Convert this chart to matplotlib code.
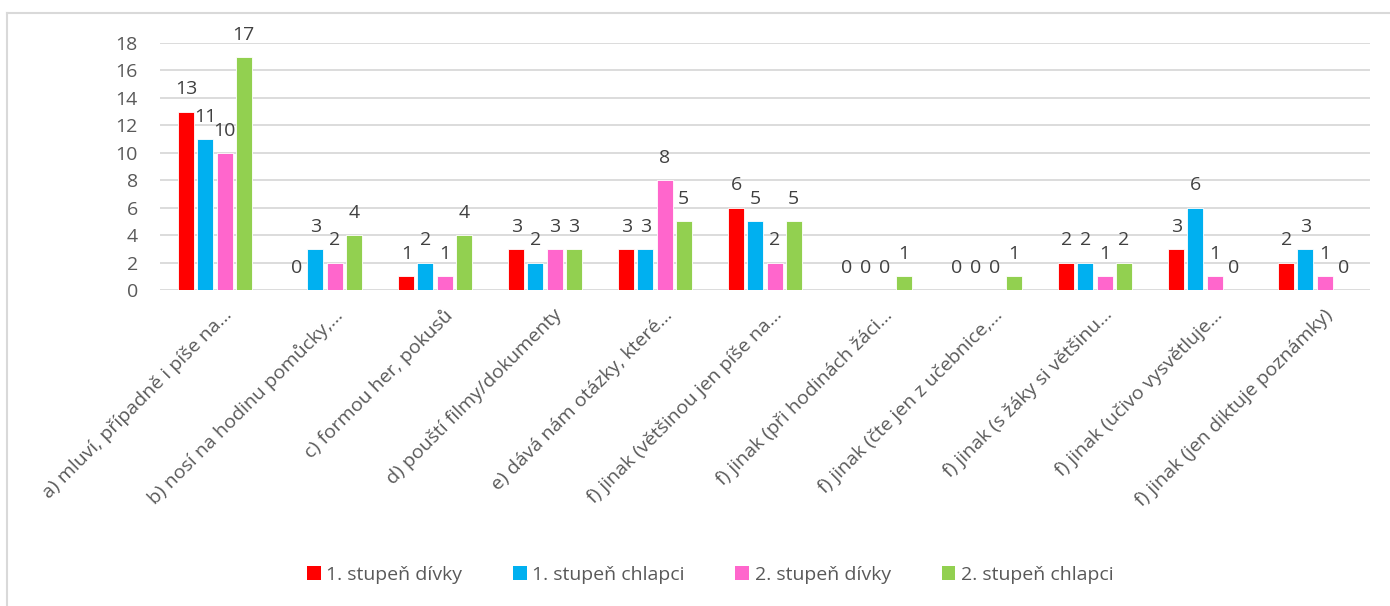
import matplotlib
matplotlib.use("Agg")
import matplotlib.pyplot as plt
from matplotlib.lines import Line2D
from matplotlib.patches import Patch
import matplotlib.transforms as mtransforms
import numpy as np

plt.rcParams['font.family'] = ['Open Sans', 'DejaVu Sans']

# data
kategorie = [
    "a) mluví, případně i píše na...",
    "b) nosí na hodinu pomůcky,...",
    "c) formou her, pokusů",
    "d) pouští filmy/dokumenty",
    "e) dává nám otázky, které...",
    "f) jinak (většinou jen píše na...",
    "f) jinak (při hodinách žáci...",
    "f) jinak (čte jen z učebnice,...",
    "f) jinak (s žáky si většinu...",
    "f) jinak (učivo vysvětluje...",
    "f) jinak (jen diktuje poznámky)",
]
serie = ["1. stupeň dívky", "1. stupeň chlapci", "2. stupeň dívky", "2. stupeň chlapci"]
st1_divky = [13, 0, 1, 3, 3, 6, 0, 0, 2, 3, 2]
st1_chlapci = [11, 3, 2, 2, 3, 5, 0, 0, 2, 6, 3]
st2_divky = [10, 2, 1, 3, 8, 2, 0, 0, 1, 1, 1]
st2_chlapci = [17, 4, 4, 3, 5, 5, 1, 1, 2, 0, 0]
barvy = ["#FF0000", "#00B0F0", "#FF66CC", "#92D050"]

hodnoty = [st1_divky, st1_chlapci, st2_divky, st2_chlapci]
txt = "#595959"
fs = 14

fig = plt.figure(figsize=(13.9, 6.06), dpi=100)
ax = fig.add_axes([160/1390, 1-290/606, 1210/1390, 247/606])

x = np.arange(len(kategorie))
slot = 0.174
w = 0.145
for i, (vals, c) in enumerate(zip(hodnoty, barvy)):
    pos = x + (i - 1.5) * slot
    ax.bar(pos, vals, width=w, color=c, edgecolor="white", linewidth=0.6, zorder=3)
    for px, v in zip(pos, vals):
        ax.annotate(str(v), (px, v), xytext=(0, 16), textcoords="offset points",
                    ha="center", va="center", fontsize=fs, color="#404040")

ax.set_xlim(-0.5, len(kategorie) - 0.5)
ax.set_ylim(0, 18)
ax.set_yticks(range(0, 19, 2))
ax.yaxis.grid(True, color="#D9D9D9", linewidth=1.3, zorder=0)
for s in ax.spines.values():
    s.set_visible(False)
ax.tick_params(axis="y", length=0, pad=16, labelsize=fs, labelcolor=txt)
ax.tick_params(axis="x", length=0, labelsize=fs, labelcolor=txt)
ax.set_xticks(x)
ax.set_xticklabels(kategorie, rotation=45, ha="right", rotation_mode="anchor")
off = mtransforms.ScaledTranslation(8/100, -11/100, fig.dpi_scale_trans)
for lab in ax.get_xticklabels():
    lab.set_transform(lab.get_transform() + off)

handles = [Patch(facecolor=c, edgecolor="none") for c in barvy]
fig.legend(handles, serie, loc="center", bbox_to_anchor=(0.511, 1-575/606), ncol=4,
           frameon=False, fontsize=fs, labelcolor=txt, handlelength=0.7,
           handleheight=0.7, handletextpad=0.3, columnspacing=2.6)

# chart frame
fig.add_artist(Line2D([7/1390, 7/1390], [1-13/606, 1-605/606], color="#D9D9D9", lw=1.5,
                      transform=fig.transFigure))
fig.add_artist(Line2D([7/1390, 1.0], [1-13/606, 1-13/606], color="#D9D9D9", lw=1.5,
                      transform=fig.transFigure))

fig.savefig("out.png", dpi=100)
